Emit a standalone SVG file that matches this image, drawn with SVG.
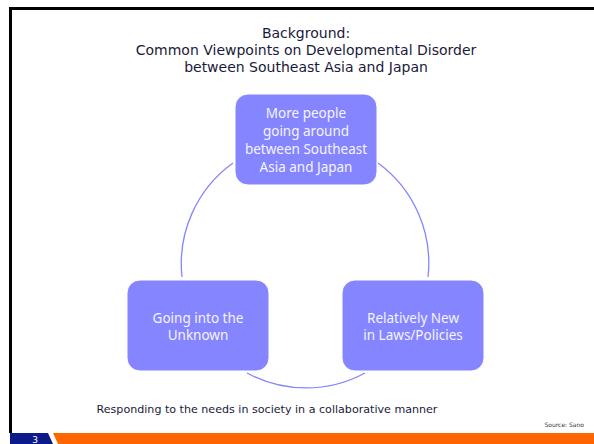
<svg xmlns="http://www.w3.org/2000/svg" width="594" height="444" viewBox="0 0 594 444">
<defs>
<style>
.box{fill:#8585ff;stroke:#ffffff;stroke-width:1}
.arc{fill:none;stroke:#8585ff;stroke-width:1.3}
.bt{font-family:"Noto Sans","Open Sans",sans-serif;font-size:13.5px;fill:#f4f4ff;text-anchor:middle}
.tt{font-family:"DejaVu Sans",Verdana,sans-serif;font-size:14px;fill:#1a1a3a;text-anchor:middle}
</style>
</defs>
<rect x="0" y="0" width="594" height="444" fill="#ffffff"/>
<g id="frame">
<path d="M10.5 433 V8.5 H594" fill="none" stroke="#000000" stroke-width="3"/>
<polygon points="10,433 48,433 53,444 10,444" fill="#0d1a8c"/>
<polygon points="53,433 594,433 594,444 58,444" fill="#ff6600"/>
<text x="35" y="443" font-family="DejaVu Sans,sans-serif" font-size="9" fill="#ffffff" text-anchor="middle">3</text>
</g>
<g id="title">
<text class="tt" x="306" y="38">Background:</text>
<text class="tt" x="306" y="55">Common Viewpoints on Developmental Disorder</text>
<text class="tt" x="306" y="72">between Southeast Asia and Japan</text>
</g>
<g id="connectors">
<path class="arc" d="M182 277 A124 124 0 0 1 233 163"/>
<path class="arc" d="M378 163 A124 124 0 0 1 428 277"/>
<path class="arc" d="M365 373 A124 124 0 0 1 247 373"/>
</g>
<g id="node-top">
<rect class="box" x="235" y="94" width="142" height="91" rx="13"/>
<text class="bt" x="306" y="118">More people</text>
<text class="bt" x="306" y="136">going around</text>
<text class="bt" x="306" y="154">between Southeast</text>
<text class="bt" x="306" y="172">Asia and Japan</text>
</g>
<g id="node-left">
<rect class="box" x="127" y="280" width="142" height="91" rx="13"/>
<text class="bt" x="198" y="323">Going into the</text>
<text class="bt" x="198" y="340">Unknown</text>
</g>
<g id="node-right">
<rect class="box" x="342" y="280" width="142" height="91" rx="13"/>
<text class="bt" x="413" y="323">Relatively New</text>
<text class="bt" x="413" y="340">in Laws/Policies</text>
</g>
<g id="footer">
<text x="267" y="413" font-family="DejaVu Sans,Verdana,sans-serif" font-size="11.1" fill="#1a1a3a" text-anchor="middle">Responding to the needs in society in a collaborative manner</text>
<text x="584" y="427" font-family="DejaVu Sans,Verdana,sans-serif" font-size="6" fill="#333333" text-anchor="end">Source: Sano</text>
</g>
</svg>
